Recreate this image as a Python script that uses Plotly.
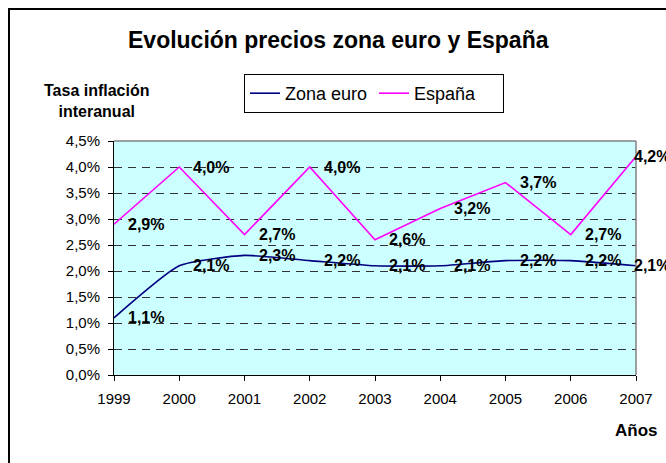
import plotly.graph_objects as go

years = [1999, 2000, 2001, 2002, 2003, 2004, 2005, 2006, 2007]
zona_euro = [1.1, 2.1, 2.3, 2.2, 2.1, 2.1, 2.2, 2.2, 2.1]
espana = [2.9, 4.0, 2.7, 4.0, 2.6, 3.2, 3.7, 2.7, 4.2]
y_ticks = [0.0, 0.5, 1.0, 1.5, 2.0, 2.5, 3.0, 3.5, 4.0, 4.5]

W, H = 666, 463
L, R, T, B = 114, 636, 141, 375  # plot area in pixels
FONT = "Liberation Sans, Arial, sans-serif"


def px(x):
    return (x - L) / (R - L)


def py(y):
    return (B - y) / (B - T)


def fmt(v):
    return f"{v:.1f}%".replace(".", ",")


fig = go.Figure()
fig.add_trace(go.Scatter(
    x=years, y=zona_euro, name="Zona euro", mode="lines",
    line=dict(color="#000080", width=1.6, shape="spline", smoothing=0.5),
))
fig.add_trace(go.Scatter(
    x=years, y=espana, name="España", mode="lines",
    line=dict(color="#FF00FF", width=1.6),
))

annotations = []
for series in (zona_euro, espana):
    for i, (yr, v) in enumerate(zip(years, series)):
        annotations.append(dict(
            x=yr, y=v, xref="x", yref="y", text=fmt(v), showarrow=False,
            xanchor="left", yanchor="middle",
            xshift=12 if i < len(years) - 1 else -4,
            font=dict(family=FONT, size=16, color="black", weight="bold"),
        ))

annotations += [
    dict(x=px(338), y=py(40), xref="paper", yref="paper",
         text="<b>Evolución precios zona euro y España</b>", showarrow=False,
         xanchor="center", yanchor="middle",
         font=dict(family=FONT, size=23, color="black")),
    dict(x=px(97), y=py(101), xref="paper", yref="paper",
         text="<b>Tasa inflación<br>interanual</b>", showarrow=False,
         xanchor="center", yanchor="middle", align="center",
         font=dict(family=FONT, size=16, color="black")),
    dict(x=px(636), y=py(430), xref="paper", yref="paper",
         text="<b>Años</b>", showarrow=False,
         xanchor="center", yanchor="middle",
         font=dict(family=FONT, size=17, color="black")),
]

shapes = [
    # outer chart frame (extends past the visible window)
    dict(type="rect", xref="paper", yref="paper",
         x0=px(9), y0=py(520), x1=px(720), y1=py(9),
         line=dict(color="black", width=2), fillcolor="rgba(0,0,0,0)", layer="above"),
    # top and right plot-area border (gray)
    dict(type="line", xref="paper", yref="paper", x0=0, x1=1, y0=1, y1=1,
         line=dict(color="#808080", width=1.5), layer="above"),
    dict(type="line", xref="paper", yref="paper", x0=1, x1=1, y0=0, y1=1,
         line=dict(color="#808080", width=1.5), layer="above"),
]

fig.update_layout(
    width=W, height=H,
    margin=dict(l=L, r=W - R, t=T, b=H - B, pad=0),
    paper_bgcolor="white",
    plot_bgcolor="#CCFFFF",
    font=dict(family=FONT, size=15, color="black"),
    showlegend=True,
    legend=dict(
        orientation="h", x=px(244), y=py(74), xanchor="left", yanchor="top",
        bordercolor="black", borderwidth=1, bgcolor="white",
        font=dict(family=FONT, size=18, color="black"),
        traceorder="normal", entrywidth=84,
    ),
    annotations=annotations,
    shapes=shapes,
)

fig.update_xaxes(
    range=[1999, 2007], tickvals=years, ticktext=[str(y) for y in years],
    showgrid=False, zeroline=False,
    showline=True, linecolor="black", linewidth=1,
    ticks="outside", ticklen=5, tickcolor="black",
    ticklabelstandoff=5,
    tickfont=dict(family=FONT, size=15, color="black"),
)
fig.update_yaxes(
    range=[0, 4.5], tickmode="array", tickvals=y_ticks,
    ticktext=[fmt(v) for v in y_ticks],
    showgrid=True, gridcolor="#333333", gridwidth=1, griddash="8px,6px",
    zeroline=False,
    showline=True, linecolor="black", linewidth=1,
    ticks="outside", ticklen=5, tickcolor="black",
    ticklabelstandoff=5,
    tickfont=dict(family=FONT, size=15, color="black"),
)

fig.write_html(
    "out.html",
    config={"displayModeBar": False},
    post_script="document.body.style.margin='0';document.body.style.overflow='hidden';",
)
